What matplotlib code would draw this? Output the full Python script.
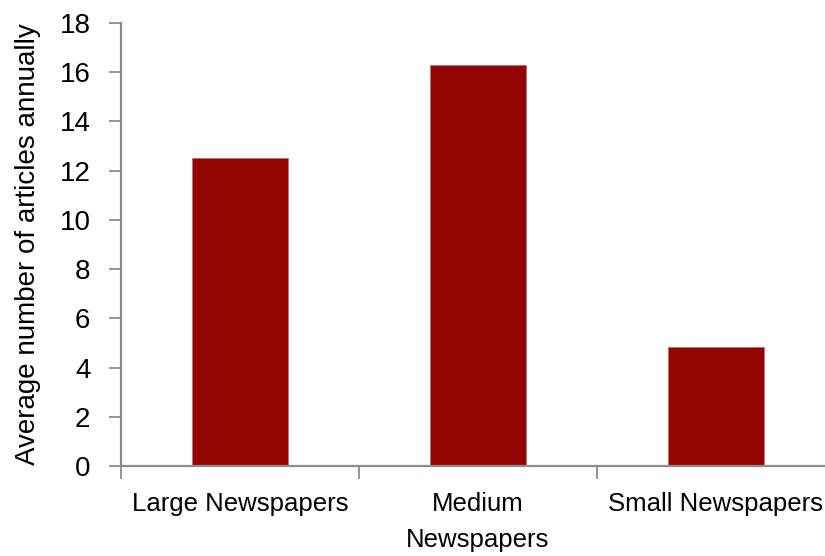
import matplotlib.pyplot as plt

categories = ["Large Newspapers", "Medium\nNewspapers", "Small Newspapers"]
articles = [12.5, 16.3, 4.85]
y_ticks = [0, 2, 4, 6, 8, 10, 12, 14, 16, 18]

plt.rcParams["font.family"] = ["Liberation Sans", "DejaVu Sans"]

fig = plt.figure(figsize=(8.25, 5.56), dpi=100)
ax = fig.add_axes([0.1467, 0.1619, 0.8653, 0.7967])

x = range(len(categories))
ax.bar(x, articles, width=0.4, color="#930500", edgecolor="#c07070", linewidth=0.6)

ax.set_xlim(-0.5, 2.5)
ax.set_ylim(0, 18)
ax.set_yticks(y_ticks)
ax.set_xticks(x)
ax.set_xticklabels(categories, fontsize=18.5, linespacing=1.6)
ax.tick_params(axis="y", labelsize=20, length=9, width=1.3, color="#8c8c8c", pad=13)
ax.tick_params(axis="x", length=0, pad=19)
# category boundary ticks
ax.set_xticks([-0.5, 0.5, 1.5], minor=True)
ax.tick_params(axis="x", which="minor", length=9, width=1.3, color="#8c8c8c")

for side in ["top", "right"]:
    ax.spines[side].set_visible(False)
for side in ["left", "bottom"]:
    ax.spines[side].set_color("#8c8c8c")
    ax.spines[side].set_linewidth(1.6)

ax.set_ylabel("Average number of articles annually", fontsize=20, labelpad=13)

fig.savefig("out.png", dpi=100)
